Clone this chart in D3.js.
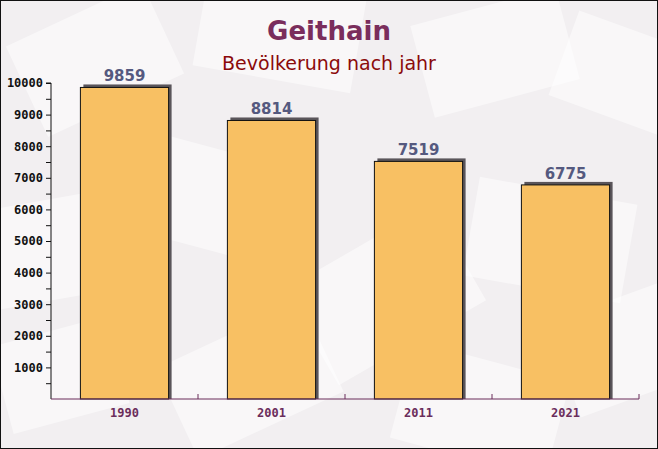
<!DOCTYPE html>
<html>
<head>
<meta charset="utf-8">
<script src="https://cdn.jsdelivr.net/npm/d3@7"></script>
<style>
  body { margin: 0; background: #fff; }
  svg { display: block; }
</style>
</head>
<body>
<div id="chart"></div>
<script>
var years = ["1990", "2001", "2011", "2021"];
var population = [9859, 8814, 7519, 6775];
var yTicks = [1000, 2000, 3000, 4000, 5000, 6000, 7000, 8000, 9000, 10000];

var width = 658;
var height = 449;
var margin = { top: 83, right: 19, bottom: 50, left: 51 };

var svg = d3.select("#chart")
    .append("svg")
    .attr("width", width)
    .attr("height", height);

// background with faint envelope shapes
svg.append("rect")
    .attr("width", width)
    .attr("height", height)
    .attr("fill", "#f2eff1");

var envelopes = [
    [20, 10, 150, 100, -25], [200, -20, 160, 100, 10], [420, 5, 150, 95, -15], [560, 30, 130, 90, 20],
    [-20, 200, 140, 100, -10], [140, 150, 150, 100, 15], [300, 240, 170, 110, -30], [470, 190, 160, 100, 10],
    [170, 330, 160, 100, -25], [400, 360, 160, 100, 15], [560, 300, 120, 100, -20], [0, 330, 120, 90, -15]
];
svg.append("g").selectAll("rect")
    .data(envelopes)
    .join("rect")
    .attr("x", function (d) { return d[0]; })
    .attr("y", function (d) { return d[1]; })
    .attr("width", function (d) { return d[2]; })
    .attr("height", function (d) { return d[3]; })
    .attr("transform", function (d) { return "rotate(" + d[4] + "," + (d[0] + d[2] / 2) + "," + (d[1] + d[3] / 2) + ")"; })
    .attr("fill", "#ffffff")
    .attr("opacity", 0.5);

var x = d3.scaleBand()
    .domain(years)
    .range([margin.left, width - margin.right])
    .paddingInner(0.4)
    .paddingOuter(0.2);

var y = d3.scaleLinear()
    .domain([0, 10000])
    .range([height - margin.bottom, margin.top]);

// shadows
svg.append("g").selectAll("rect")
    .data(population)
    .join("rect")
    .attr("x", function (d, i) { return x(years[i]) + 3; })
    .attr("y", function (d) { return y(d) - 3; })
    .attr("width", x.bandwidth())
    .attr("height", function (d) { return y(0) - y(d) + 3; })
    .attr("fill", "#5a555a");

// bars
svg.append("g").selectAll("rect")
    .data(population)
    .join("rect")
    .attr("x", function (d, i) { return x(years[i]); })
    .attr("y", function (d) { return y(d); })
    .attr("width", x.bandwidth())
    .attr("height", function (d) { return y(0) - y(d); })
    .attr("fill", "#f8c063")
    .attr("stroke", "#111")
    .attr("stroke-width", 1);

// value labels
svg.append("g").selectAll("text")
    .data(population)
    .join("text")
    .attr("x", function (d, i) { return x(years[i]) + x.bandwidth() / 2; })
    .attr("y", function (d) { return y(d) - 6; })
    .attr("text-anchor", "middle")
    .attr("font-family", "DejaVu Sans")
    .attr("font-weight", "bold")
    .attr("font-size", 15)
    .attr("fill", "#55597f")
    .text(function (d) { return d; });

// y axis
var yAxis = svg.append("g")
    .attr("transform", "translate(" + margin.left + ",0)")
    .call(d3.axisLeft(y).tickValues(d3.range(500, 10001, 500)).tickSize(5)
        .tickFormat(function (d) { return yTicks.indexOf(d) >= 0 ? d : ""; }));
yAxis.select(".domain").attr("stroke", "#111").attr("d", "M0," + y(0) + "V" + y(10000) + "h-5");
yAxis.selectAll(".tick line").attr("stroke", "#111");
yAxis.selectAll(".tick text")
    .attr("x", -8)
    .attr("font-family", "DejaVu Sans Mono")
    .attr("font-weight", "bold")
    .attr("font-size", 12)
    .attr("fill", "#111");

// x axis
var xAxis = svg.append("g")
    .attr("transform", "translate(0," + y(0) + ")")
    .call(d3.axisBottom(x).tickSize(0).tickPadding(9));
xAxis.select(".domain").attr("stroke", "#6b2d5b").attr("d", "M" + margin.left + ",0H" + (width - margin.right));
xAxis.selectAll(".tick text")
    .attr("font-family", "DejaVu Sans Mono")
    .attr("font-weight", "bold")
    .attr("font-size", 12)
    .attr("fill", "#6b2d5b");

var step = x.step();
svg.append("g").selectAll("line")
    .data(years)
    .join("line")
    .attr("x1", function (d) { return x(d) + step * 0.8; })
    .attr("x2", function (d) { return x(d) + step * 0.8; })
    .attr("y1", y(0))
    .attr("y2", y(0) - 5)
    .attr("stroke", "#6b2d5b");

// titles
svg.append("text")
    .attr("x", width / 2)
    .attr("y", 40)
    .attr("text-anchor", "middle")
    .attr("font-family", "DejaVu Sans")
    .attr("font-weight", "bold")
    .attr("font-size", 26)
    .attr("fill", "#7a2d5c")
    .text("Geithain");

svg.append("text")
    .attr("x", width / 2)
    .attr("y", 70)
    .attr("text-anchor", "middle")
    .attr("font-family", "DejaVu Sans")
    .attr("font-size", 19)
    .attr("fill", "#8b0a0a")
    .text("Bevölkerung nach jahr");

// frame
svg.append("rect")
    .attr("x", 0.5)
    .attr("y", 0.5)
    .attr("width", width - 1)
    .attr("height", height - 1)
    .attr("fill", "none")
    .attr("stroke", "#111");
</script>
</body>
</html>
